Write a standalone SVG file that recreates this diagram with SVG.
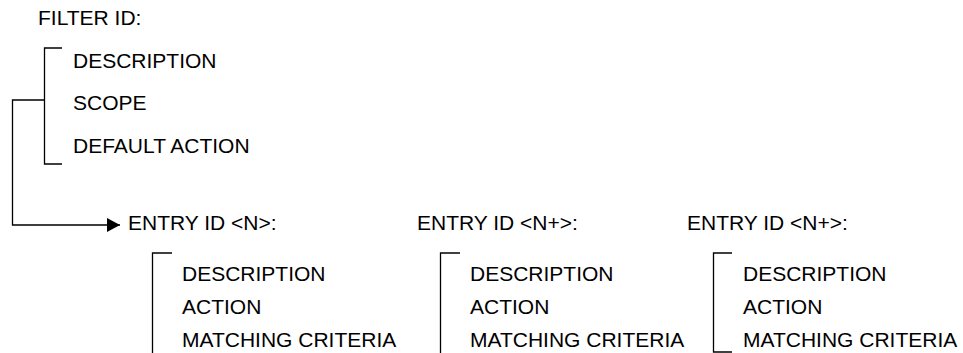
<svg xmlns="http://www.w3.org/2000/svg" width="963" height="353" viewBox="0 0 963 353">
<style>
text{font-family:"Liberation Sans",Arial,sans-serif;font-size:21px;fill:#000}
.ln{fill:none;stroke:#000;stroke-width:1.3}
</style>
<defs>
<marker id="ah" markerWidth="14" markerHeight="14" refX="13" refY="7" orient="auto" markerUnits="userSpaceOnUse">
<path d="M0,0 L13,7 L0,14 Z" fill="#000"/>
</marker>
</defs>
<rect width="963" height="353" fill="#fff"/>
<g id="filter">
<text x="38" y="25">FILTER ID:</text>
<path class="ln" d="M62,48 H44.5 V164 H62"/>
<text x="73" y="68">DESCRIPTION</text>
<text x="73" y="110">SCOPE</text>
<text x="73" y="153">DEFAULT ACTION</text>
</g>
<g id="connectors">
<path class="ln" d="M44.5,100 H12.5 V225 H120" marker-end="url(#ah)"/>
</g>
<g id="entry1">
<text x="128" y="230">ENTRY ID &lt;N&gt;:</text>
<path class="ln" d="M172,253 H152.5 V353"/>
<text x="182" y="281">DESCRIPTION</text>
<text x="182" y="314">ACTION</text>
<text x="182" y="347">MATCHING CRITERIA</text>
</g>
<g id="entry2">
<text x="417" y="230">ENTRY ID &lt;N+&gt;:</text>
<path class="ln" d="M460,253 H440.5 V353"/>
<text x="470" y="281">DESCRIPTION</text>
<text x="470" y="314">ACTION</text>
<text x="470" y="347">MATCHING CRITERIA</text>
</g>
<g id="entry3">
<text x="687" y="230">ENTRY ID &lt;N+&gt;:</text>
<path class="ln" d="M732,253 H713.5 V352 H732"/>
<text x="743" y="281">DESCRIPTION</text>
<text x="743" y="314">ACTION</text>
<text x="743" y="347">MATCHING CRITERIA</text>
</g>
</svg>
